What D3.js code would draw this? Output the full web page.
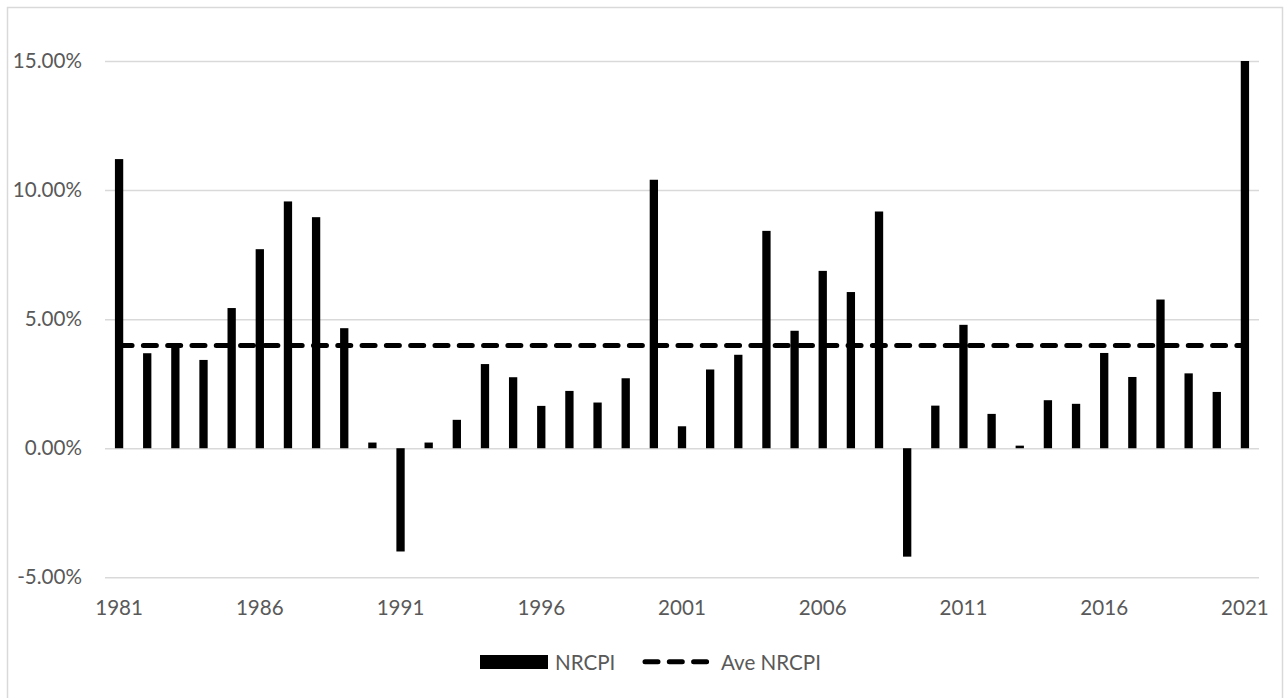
<!DOCTYPE html>
<html>
<head>
<meta charset="utf-8">
<script src="https://cdn.jsdelivr.net/npm/d3@7/dist/d3.min.js"></script>
<style>
  html, body { margin: 0; padding: 0; background: #fff; }
  svg { display: block; }
  text { font-family: Lato, "Open Sans", sans-serif; fill: #595959; }
</style>
</head>
<body>
<svg id="chart" width="1284" height="698"></svg>
<script>
const years = d3.range(1981, 2022).map(String);
const nrcpi = [11.2, 3.68, 3.9, 3.42, 5.43, 7.71, 9.56, 8.95, 4.65, 0.22,
               -4.0, 0.22, 1.1, 3.26, 2.75, 1.64, 2.22, 1.77, 2.71, 10.4,
               0.85, 3.05, 3.62, 8.42, 4.55, 6.87, 6.05, 9.17, -4.2, 1.65,
               4.78, 1.33, 0.1, 1.86, 1.72, 3.69, 2.76, 5.76, 2.9, 2.18, 15.0];
const aveNrcpi = 3.98;
const yTicks = [-5, 0, 5, 10, 15];
const xTickYears = ["1981", "1986", "1991", "1996", "2001", "2006", "2011", "2016", "2021"];
const seriesNames = ["NRCPI", "Ave NRCPI"];

const svg = d3.select("#chart");
const plot = { left: 105, right: 1259, top: 61, bottom: 577.3 };
const fs = "20.6px";

// chart border
svg.append("rect")
  .attr("x", 7.5).attr("y", 7.5)
  .attr("width", 1275).attr("height", 700)
  .attr("fill", "none").attr("stroke", "#d9d9d9").attr("stroke-width", 1.5);

const x = d3.scaleBand().domain(years)
  .range([plot.left, plot.right])
  .paddingInner(0.705).paddingOuter(0.3525);
const y = d3.scaleLinear().domain([-5, 15]).range([plot.bottom, plot.top]);

// gridlines via axis
const grid = svg.append("g")
  .attr("transform", `translate(${plot.left},0)`)
  .call(d3.axisLeft(y).tickValues(yTicks).tickSize(-(plot.right - plot.left)).tickFormat(""));
grid.select(".domain").remove();
grid.selectAll("line").attr("stroke", "#d9d9d9").attr("stroke-width", 1.5);

// y labels
const yAxis = svg.append("g")
  .attr("transform", `translate(82,0)`)
  .call(d3.axisLeft(y).tickValues(yTicks).tickSize(0).tickPadding(0)
    .tickFormat(d => d.toFixed(2) + "%"));
yAxis.select(".domain").remove();
yAxis.selectAll("text").style("font-size", fs).attr("fill", "#595959");

// bars
svg.append("g").selectAll("rect").data(years).join("rect")
  .attr("x", (d) => x(d))
  .attr("width", x.bandwidth())
  .attr("y", (d, i) => y(Math.max(0, nrcpi[i])))
  .attr("height", (d, i) => Math.abs(y(nrcpi[i]) - y(0)))
  .attr("fill", "#000");

// average line
const line = d3.line().x(d => x(d) + x.bandwidth() / 2).y(() => y(aveNrcpi));
svg.append("path")
  .datum([years[0], years[years.length - 1]])
  .attr("d", line)
  .attr("fill", "none").attr("stroke", "#000")
  .attr("stroke-width", 5).attr("stroke-linecap", "round")
  .attr("stroke-dasharray", "13,11.3");

// x axis labels
const xAxis = svg.append("g")
  .attr("transform", `translate(0,${plot.bottom})`)
  .call(d3.axisBottom(x).tickValues(xTickYears).tickSize(0).tickPadding(23));
xAxis.select(".domain").remove();
xAxis.selectAll("text").style("font-size", fs).attr("fill", "#595959");

// legend
const lg = svg.append("g");
lg.append("rect").attr("x", 480).attr("y", 655).attr("width", 68).attr("height", 14).attr("fill", "#000");
lg.append("text").attr("x", 555).attr("y", 669.5).style("font-size", fs).text(seriesNames[0]);
lg.append("line").attr("x1", 645).attr("x2", 707).attr("y1", 661.7).attr("y2", 661.7)
  .attr("stroke", "#000").attr("stroke-width", 5).attr("stroke-linecap", "round")
  .attr("stroke-dasharray", "13,11.3");
lg.append("text").attr("x", 721).attr("y", 669.5).style("font-size", fs).text(seriesNames[1]);
</script>
</body>
</html>
